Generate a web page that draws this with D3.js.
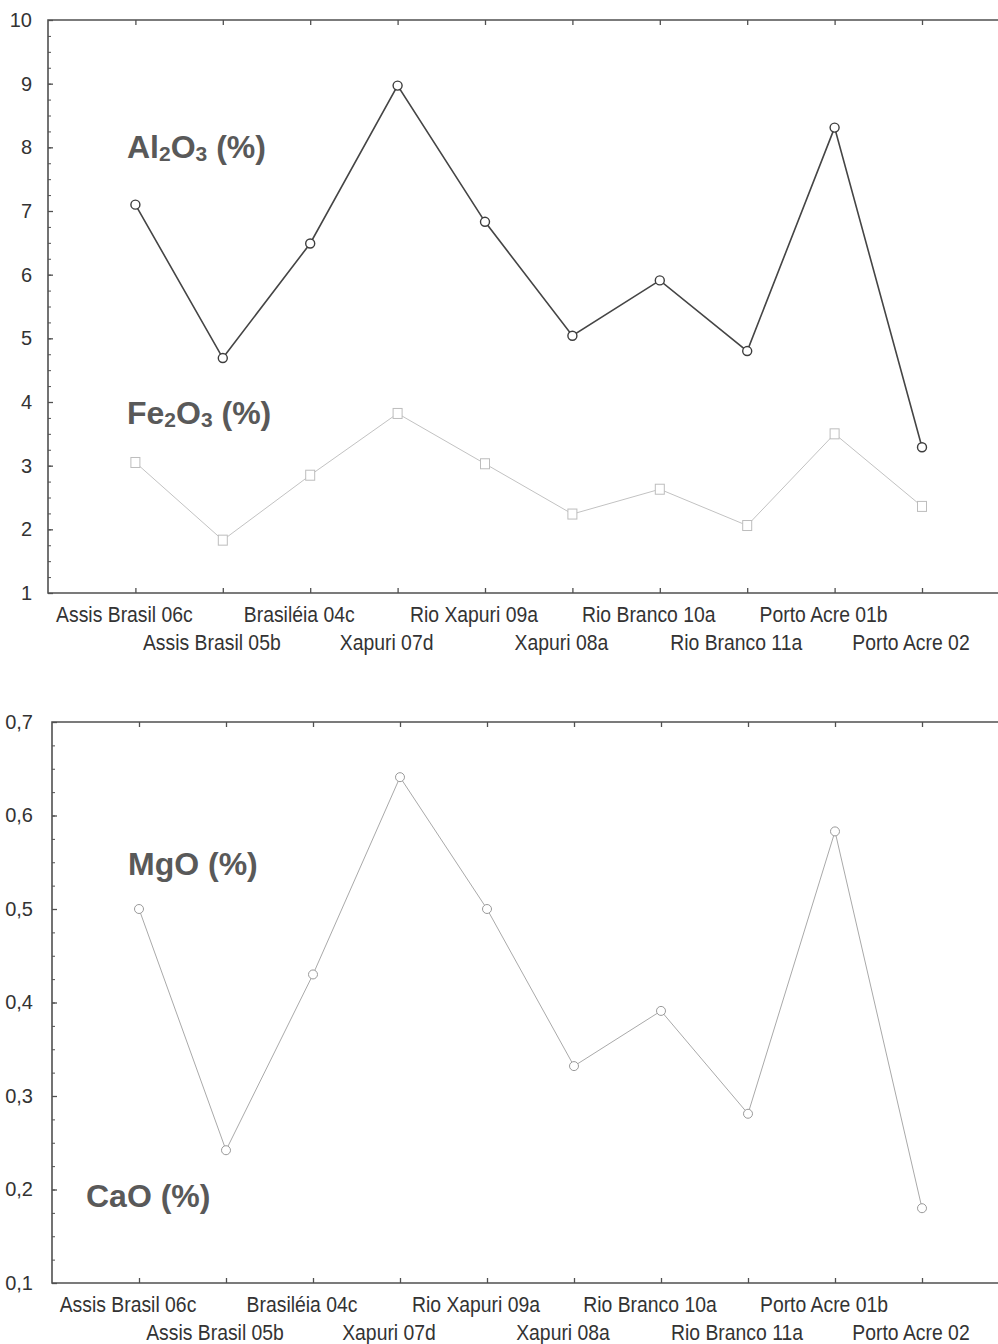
<!DOCTYPE html>
<html><head><meta charset="utf-8">
<script src="https://cdn.jsdelivr.net/npm/d3@7"></script>
<style>
body{margin:0;background:#fff}
svg{display:block;background:#fff}
.lbl{font-family:"Liberation Sans",Arial,sans-serif;fill:#333}
.ttl{font-family:"Liberation Sans",Arial,sans-serif;font-weight:bold;fill:#595959}
</style>
</head><body>
<svg id="chart" width="998" height="1344"></svg>
<script>
// Sample names along the x axis (alternating rows)
const samples = ["Assis Brasil 06c","Assis Brasil 05b","Brasiléia 04c","Xapuri 07d","Rio Xapuri 09a",
                 "Xapuri 08a","Rio Branco 10a","Rio Branco 11a","Porto Acre 01b","Porto Acre 02"];
// Oxide contents (%)
const al2o3 = [7.10, 4.69, 6.49, 8.97, 6.83, 5.04, 5.91, 4.80, 8.31, 3.29];
const fe2o3 = [3.05, 1.83, 2.85, 3.82, 3.03, 2.24, 2.63, 2.06, 3.50, 2.36];
const mgo   = [0.50, 0.242, 0.43, 0.641, 0.50, 0.332, 0.391, 0.281, 0.583, 0.18];
// Tick values
const topTicks = [1,2,3,4,5,6,7,8,9,10];
const bottomTicks = [0.1,0.2,0.3,0.4,0.5,0.6,0.7];

const W = 998;
const svg = d3.select("#chart");
const frameColor = "#505050";
const narrow = 0.88;   // horizontal squeeze for a condensed look

function panel(opts){
  const g = svg.append("g");
  const x = d3.scaleLinear().domain([-1, 9]).range(opts.xRange);
  const y = d3.scaleLinear().domain(opts.yDomain).range(opts.yRange);
  const left = opts.xRange[0], top = opts.yRange[1], bottom = opts.yRange[0];

  // minor y ticks
  const minor = d3.range(opts.yDomain[0], opts.yDomain[1] + 1e-9, opts.minorStep);
  g.append("g").attr("transform", `translate(${left},0)`)
    .call(d3.axisLeft(y).tickValues(minor).tickSize(-3).tickFormat(""))
    .call(a => a.select(".domain").remove())
    .call(a => a.selectAll("line").attr("stroke", frameColor).attr("stroke-width", 1));
  // major y ticks with labels
  g.append("g").attr("transform", `translate(${left},0)`)
    .call(d3.axisLeft(y).tickValues(opts.ticks).tickSize(-5).tickPadding(opts.pad).tickFormat(opts.fmt))
    .call(a => a.select(".domain").remove())
    .call(a => a.selectAll("line").attr("stroke", frameColor).attr("stroke-width", 1.3))
    .call(a => a.selectAll("text").attr("class", "lbl").attr("font-size", 20).attr("font-family", null).attr("fill", "#333"));
  // category ticks on bottom and top edges
  g.append("g").attr("transform", `translate(0,${bottom})`)
    .call(d3.axisBottom(x).tickValues(d3.range(10)).tickSize(-5).tickFormat(""))
    .call(a => a.select(".domain").remove())
    .call(a => a.selectAll("line").attr("stroke", frameColor).attr("stroke-width", 1.3));
  g.append("g").attr("transform", `translate(0,${top})`)
    .call(d3.axisTop(x).tickValues(d3.range(10)).tickSize(-5).tickFormat(""))
    .call(a => a.select(".domain").remove())
    .call(a => a.selectAll("line").attr("stroke", frameColor).attr("stroke-width", 1.3));
  // frame (left, top, bottom; right side runs past the page edge)
  g.append("path")
    .attr("d", `M${W},${top}H${left}V${bottom}H${W}`)
    .attr("fill", "none").attr("stroke", frameColor).attr("stroke-width", 1.6);

  // staggered sample labels
  g.append("g").selectAll("text").data(samples).join("text")
    .attr("class", "lbl")
    .attr("font-size", 22)
    .attr("text-anchor", "middle")
    .attr("transform", (d, i) => `translate(${x(i) - 11},${bottom + (i % 2 === 0 ? 29 : 57)}) scale(${narrow},1)`)
    .text(d => d);

  return {g, x, y};
}

function series(p, values, o){
  const line = d3.line().x((d, i) => p.x(i)).y(d => p.y(d));
  p.g.append("path").datum(values).attr("d", line)
    .attr("fill", "none").attr("stroke", o.color).attr("stroke-width", o.width);
  if (o.marker === "circle") {
    p.g.append("g").selectAll("circle").data(values).join("circle")
      .attr("cx", (d, i) => p.x(i)).attr("cy", d => p.y(d)).attr("r", 4.5)
      .attr("fill", "#fff").attr("stroke", o.markColor).attr("stroke-width", o.markWidth);
  } else {
    p.g.append("g").selectAll("rect").data(values).join("rect")
      .attr("x", (d, i) => p.x(i) - 4.5).attr("y", d => p.y(d) - 5)
      .attr("width", 9).attr("height", 10)
      .attr("fill", "#fff").attr("stroke", o.markColor).attr("stroke-width", o.markWidth);
  }
}

function title(x, y, parts){
  const t = svg.append("text").attr("class", "ttl").attr("x", x).attr("y", y).attr("font-size", 32);
  let prevSub = false;
  parts.forEach(([s, sub]) => {
    t.append("tspan").text(s)
      .attr("font-size", sub ? 21 : 32)
      .attr("dy", sub ? (prevSub ? 0 : 3) : (prevSub ? -3 : 0));
    prevSub = !!sub;
  });
}

// Al2O3 / Fe2O3 panel
const p1 = panel({xRange:[48, 922], yDomain:[1, 10], yRange:[593, 20], ticks: topTicks,
                  minorStep: 0.25, pad: 16, fmt: d3.format("d")});
series(p1, fe2o3, {color:"#c2c2c2", width:1, marker:"rect", markColor:"#bdbdbd", markWidth:1});
series(p1, al2o3, {color:"#454545", width:1.6, marker:"circle", markColor:"#3d3d3d", markWidth:1.4});

// MgO panel
const comma = v => d3.format(".1f")(v).replace(".", ",");
const p2 = panel({xRange:[52, 922], yDomain:[0.1, 0.7], yRange:[1283, 722], ticks: bottomTicks,
                  minorStep: 0.025, pad: 19, fmt: comma});
series(p2, mgo, {color:"#a9a9a9", width:1, marker:"circle", markColor:"#9a9a9a", markWidth:1});

// Series labels
title(127, 158, [["Al"], ["2", true], ["O"], ["3", true], [" (%)"]]);
title(127, 424, [["Fe"], ["2", true], ["O"], ["3", true], [" (%)"]]);
title(128, 875, [["MgO (%)"]]);
title(86, 1207, [["CaO (%)"]]);
</script>
</body></html>
